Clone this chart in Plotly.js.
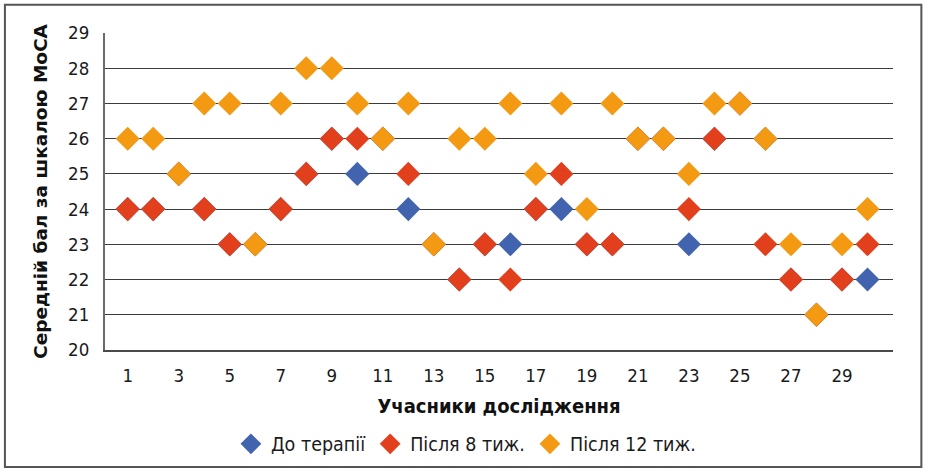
<!DOCTYPE html>
<html>
<head>
<meta charset="utf-8">
<script src="https://cdn.plot.ly/plotly-3.0.1.min.js"></script>
<style>html,body{margin:0;padding:0;background:#fff;}#chart{width:930px;height:475px;}</style>
</head>
<body>
<div id="chart"></div>
<script>
// Participants 1..30
var participants = [1,2,3,4,5,6,7,8,9,10,11,12,13,14,15,16,17,18,19,20,21,22,23,24,25,26,27,28,29,30];
// Mean MoCA score per participant
var beforeTherapy = [24,24,25,24,23,23,24,25,26,25,26,24,23,22,23,23,24,24,23,23,26,26,23,26,27,26,22,21,22,22];
var after8Weeks   = [24,24,25,24,23,23,24,25,26,26,26,25,23,22,23,22,24,25,23,23,26,26,24,26,27,23,22,21,22,23];
var after12Weeks  = [26,26,25,27,27,23,27,28,28,27,26,27,23,26,26,27,25,27,24,27,26,26,25,27,27,26,23,21,23,24];
var seriesNames = ["До терапії", "Після 8 тиж.", "Після 12 тиж."];
var xTicks = [1,3,5,7,9,11,13,15,17,19,21,23,25,27,29];
var yTicks = [20,21,22,23,24,25,26,27,28,29];

var colors = ["#4263AE", "#E23F1D", "#F39A12"];
var series = [beforeTherapy, after8Weeks, after12Weeks];
var traces = series.map(function(vals, i){
  return {
    type: "scatter", mode: "markers",
    x: participants, y: vals, name: seriesNames[i],
    marker: {symbol: "diamond", size: 18.5, color: colors[i], line: {width: 0}},
    hoverinfo: "x+y+name"
  };
});

var tickFont = {family: "DejaVu Sans Condensed, DejaVu Sans, sans-serif", size: 18.5, color: "#1a1a1a"};
var layout = {
  width: 930, height: 475,
  margin: {l: 105, r: 37.3, t: 33.3, b: 125, pad: 0},
  paper_bgcolor: "#fff", plot_bgcolor: "#fff",
  showlegend: true,
  legend: {
    orientation: "h", x: 0.458, xanchor: "center", y: -0.297, yanchor: "middle",
    font: {family: "DejaVu Sans Condensed, DejaVu Sans, sans-serif", size: 19.5, color: "#1a1a1a"},
    itemwidth: 30, tracegroupgap: 0
  },
  xaxis: {
    range: [0.11, 31.0], tickmode: "array", tickvals: xTicks, ticktext: xTicks.map(String),
    showgrid: false, zeroline: false, showline: true, linecolor: "#4a4a4a", linewidth: 2,
    ticks: "", tickfont: tickFont, ticklabelstandoff: 8,
    title: {text: "Учасники дослідження", font: {family: "DejaVu Sans Condensed, DejaVu Sans, sans-serif", size: 20, weight: "bold", color: "#111"}, standoff: 14}
  },
  yaxis: {
    range: [20, 29], tickmode: "array", tickvals: yTicks, ticktext: yTicks.map(String),
    showgrid: true, gridcolor: "#3c3c3c", gridwidth: 1, zeroline: false,
    showline: true, linecolor: "#6a6a6a", linewidth: 2,
    ticks: "", tickfont: tickFont, ticklabelstandoff: 10,
    title: {text: "Середній бал за шкалою MoCA", font: {family: "DejaVu Sans, sans-serif", size: 18.5, weight: "bold", color: "#111"}, standoff: 16}
  },
  shapes: [{
    type: "rect", xref: "paper", yref: "paper",
    x0: -0.127, x1: 1.036, y0: -0.369, y1: 1.089,
    line: {color: "#555", width: 2}, fillcolor: "rgba(0,0,0,0)", layer: "below"
  }]
};

Plotly.newPlot("chart", traces, layout, {displayModeBar: false, staticPlot: true});
</script>
</body>
</html>
